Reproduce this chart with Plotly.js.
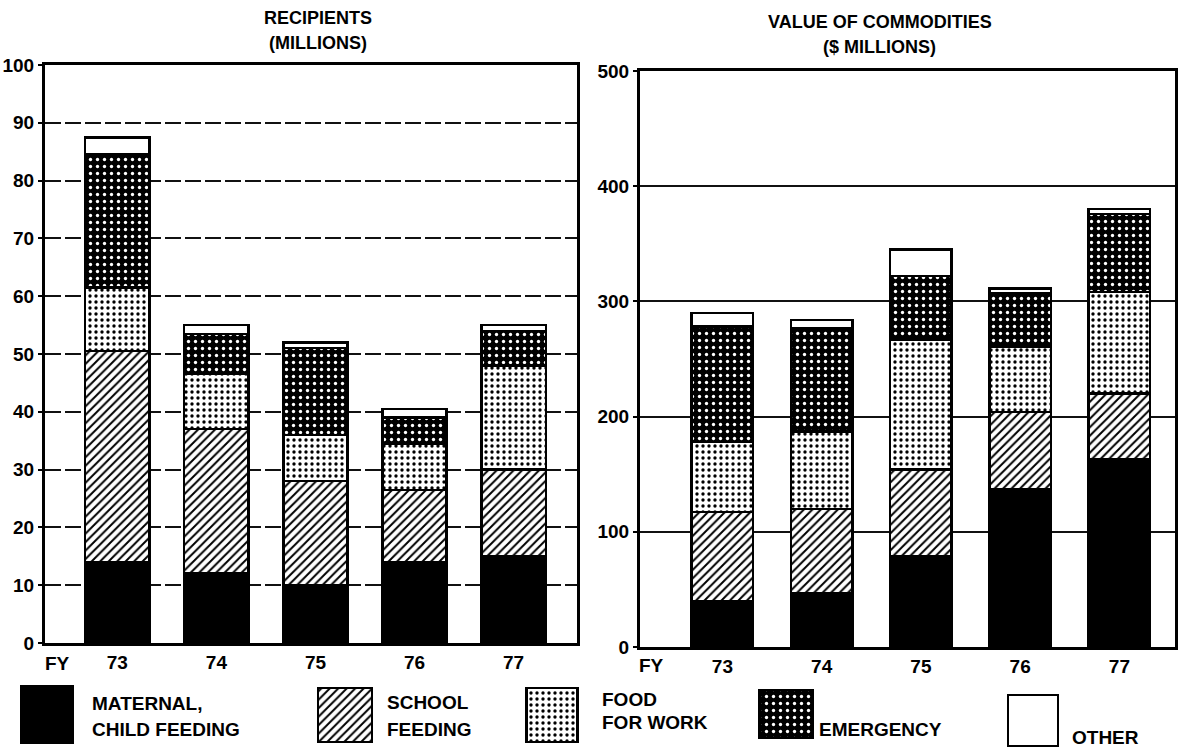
<!DOCTYPE html>
<html>
<head>
<meta charset="utf-8">
<script src="https://cdn.plot.ly/plotly-3.0.1.min.js"></script>
<style>html,body{margin:0;padding:0;background:#fff;}#chart{width:1189px;height:748px;}</style>
</head>
<body>
<div id="chart"></div>
<script>
// ---- data ----
const years = ["73", "74", "75", "76", "77"];
const seriesNames = ["MATERNAL, CHILD FEEDING", "SCHOOL FEEDING", "FOOD FOR WORK", "EMERGENCY", "OTHER"];

// Recipients (millions)
const recMaternal  = [14, 12, 10, 14, 15];
const recSchool    = [36.5, 25, 18, 12.5, 15];
const recFoodWork  = [11, 9.5, 8, 8, 18];
const recEmergency = [23, 7, 15, 4.5, 6];
const recOther     = [3, 1.5, 1, 1.5, 1];

// Value of commodities ($ millions)
const valMaternal  = [40, 47, 79, 137, 163];
const valSchool    = [77, 73, 75, 67, 57];
const valFoodWork  = [61, 67, 113, 57, 88];
const valEmergency = [100, 90, 55, 46, 68];
const valOther     = [12, 7, 23, 4, 4];

const recTicks = [0, 10, 20, 30, 40, 50, 60, 70, 80, 90, 100];
const valTicks = [0, 100, 200, 300, 400, 500];

// ---- styles ----
const W = 1189, H = 748;
const px = (x) => x / W;
const py = (y) => 1 - y / H;
const outline = {color: "#000", width: 2.5};
const styles = [
  {color: "#000", line: outline},
  {color: "#fff", line: outline, pattern: {shape: "/", fgcolor: "#000", bgcolor: "#fff", size: 6, solidity: 0.33, fillmode: "replace"}},
  {color: "#fff", line: outline, pattern: {shape: ".", fgcolor: "#000", bgcolor: "#fff", size: 6, solidity: 0.25, fillmode: "replace"}},
  {color: "#000", line: outline, pattern: {shape: ".", fgcolor: "#fff", bgcolor: "#000", size: 7, solidity: 0.18, fillmode: "replace"}},
  {color: "#fff", line: outline}
];

const recSeries = [recMaternal, recSchool, recFoodWork, recEmergency, recOther];
const valSeries = [valMaternal, valSchool, valFoodWork, valEmergency, valOther];
const xIdx = years.map((_, i) => i);

const traces = [];
recSeries.forEach((s, k) => traces.push({
  type: "bar", x: xIdx, y: s, name: seriesNames[k], xaxis: "x", yaxis: "y",
  width: 0.65, marker: styles[k], showlegend: false, hoverinfo: "y"
}));
valSeries.forEach((s, k) => traces.push({
  type: "bar", x: xIdx, y: s, name: seriesNames[k], xaxis: "x2", yaxis: "y2",
  width: 0.62, marker: styles[k], showlegend: false, hoverinfo: "y"
}));

// legend swatches (layout decoration, pixel space of overlay axis)
const swatch = [
  {x: 47, w: 51, top: 686, bot: 743},
  {x: 345, w: 54, top: 688, bot: 742},
  {x: 552, w: 51, top: 688, bot: 742},
  {x: 786, w: 53, top: 690, bot: 738},
  {x: 1033, w: 50, top: 695, bot: 746}
];
swatch.forEach((s, k) => traces.push({
  type: "bar", x: [s.x], y: [s.bot - s.top], base: [s.top], width: [s.w],
  xaxis: "x3", yaxis: "y3", marker: styles[k], showlegend: false, hoverinfo: "skip"
}));

const font = "Liberation Sans, Arial, sans-serif";
const tickFont = {family: font, size: 19, color: "#000", weight: 700};

const annText = (text, x, y, size, weight, xanchor) => ({
  text: text, x: px(x), y: py(y), xref: "paper", yref: "paper",
  showarrow: false, xanchor: xanchor || "left", yanchor: "middle",
  font: {family: font, size: size, color: "#000", weight: weight}
});

const layout = {
  width: W, height: H,
  margin: {l: 0, r: 0, t: 0, b: 0},
  paper_bgcolor: "#fff", plot_bgcolor: "rgba(0,0,0,0)",
  barmode: "stack", bargap: 0,
  xaxis: {
    domain: [px(45), px(577)], range: [-0.73, 4.64], anchor: "y",
    tickvals: xIdx, ticktext: years, tickfont: tickFont, ticks: "",
    showline: true, linecolor: "#000", linewidth: 3, mirror: true,
    showgrid: false, zeroline: false, fixedrange: true
  },
  yaxis: {
    domain: [py(643), py(65)], range: [0, 100], anchor: "x",
    tickvals: recTicks, tickfont: tickFont, ticks: "outside", ticklen: 4, tickwidth: 2, tickcolor: "#000",
    showline: true, linecolor: "#000", linewidth: 3, mirror: true,
    showgrid: true, gridcolor: "#111", gridwidth: 2, griddash: "16px,4px",
    zeroline: false, fixedrange: true
  },
  xaxis2: {
    domain: [px(640), px(1175)], range: [-0.83, 4.56], anchor: "y2",
    tickvals: xIdx, ticktext: years, tickfont: tickFont, ticks: "",
    showline: true, linecolor: "#000", linewidth: 3, mirror: true,
    showgrid: false, zeroline: false, fixedrange: true
  },
  yaxis2: {
    domain: [py(647), py(71)], range: [0, 500], anchor: "x2",
    tickvals: valTicks, tickfont: tickFont, ticks: "outside", ticklen: 4, tickwidth: 2, tickcolor: "#000",
    showline: true, linecolor: "#000", linewidth: 3, mirror: true,
    showgrid: true, gridcolor: "#111", gridwidth: 2,
    zeroline: false, fixedrange: true
  },
  xaxis3: {domain: [0, 1], range: [0, W], anchor: "y3", visible: false, fixedrange: true},
  yaxis3: {domain: [0, 1], range: [H, 0], anchor: "x3", visible: false, fixedrange: true},
  annotations: [
    annText("RECIPIENTS", 318, 18, 18, 700, "center"),
    annText("(MILLIONS)", 318, 43, 18, 700, "center"),
    annText("VALUE OF COMMODITIES", 880, 22, 18, 700, "center"),
    annText("($ MILLIONS)", 880, 47, 18, 700, "center"),
    annText("FY", 57, 663, 19, 700, "center"),
    annText("FY", 651, 665, 19, 700, "center"),
    annText("MATERNAL,", 90, 703, 19, 700),
    annText("CHILD FEEDING", 90, 729, 19, 700),
    annText("SCHOOL", 385, 702, 19, 700),
    annText("FEEDING", 385, 729, 19, 700),
    annText("FOOD", 600, 699, 19, 700),
    annText("FOR WORK", 600, 722, 19, 700),
    annText("EMERGENCY", 817, 729, 19, 700),
    annText("OTHER", 1070, 737, 19, 700)
  ]
};

Plotly.newPlot("chart", traces, layout, {displayModeBar: false, staticPlot: true});
</script>
</body>
</html>
